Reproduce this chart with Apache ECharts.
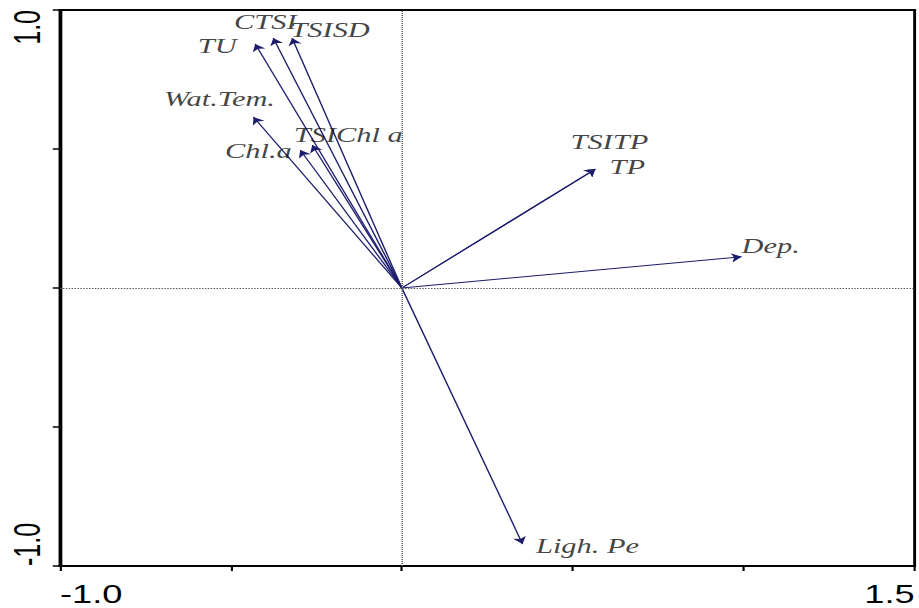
<!DOCTYPE html>
<html>
<head>
<meta charset="utf-8">
<script src="https://cdn.jsdelivr.net/npm/echarts@6/dist/echarts.min.js"></script>
<style>
  html, body { margin: 0; padding: 0; background: #fff; overflow: hidden; }
  /* the original picture is stretched sideways, so draw narrow and widen it */
  #chart { width: 634px; height: 608px; transform: scaleX(1.4495); transform-origin: 0 0; }
</style>
</head>
<body>
<div id="chart"></div>
<script>
// arrow tips (axis 1, axis 2)
var names = ['TU', 'CTSI', 'TSISD', 'Wat.Tem.', 'Chl.a', 'TSIChl a', 'TSITP', 'TP', 'Dep.', 'Ligh. Pe']
var xVals = [-0.429, -0.376, -0.321, -0.434, -0.297, -0.262, 0.566, 0.566, 0.994, 0.353]
var yVals = [0.878, 0.899, 0.899, 0.615, 0.496, 0.514, 0.428, 0.428, 0.112, -0.921]
var xTickLabels = ['-1.0', '1.5']
var yTickLabels = ['-1.0', '1.0']

// where each label sits from its arrow tip, in screen px
var labelDx = [-38, -8, 38, -34, -42, 36, 14, 32, 29, 65]
var labelDy = [2, -16, -8, -18, 1, -10, -27, -2, -11, 2]

var stretch = 919 / 634
var arrowColor = '#1c1c6e'
var serif = 'Liberation Serif'
var sans = 'Liberation Sans'

var chart = echarts.init(document.getElementById('chart'), null, { renderer: 'svg' })

var arrows = names.map(function (n, i) {
  return { name: n, coords: [[0, 0], [xVals[i], yVals[i]]] }
})

var tips = names.map(function (n, i) {
  return {
    name: n,
    value: [xVals[i], yVals[i]],
    label: { offset: [labelDx[i] / stretch, labelDy[i]] }
  }
})

var options = {
  animation: false,
  grid: {
    left: 60 / stretch,
    right: 2 / stretch,
    top: 10,
    bottom: 42,
    show: true,
    borderColor: '#000',
    borderWidth: 2
  },
  xAxis: {
    type: 'value',
    min: -1,
    max: 1.5,
    interval: 0.5,
    splitLine: { show: false },
    axisLine: { onZero: false, lineStyle: { color: '#000', width: 2 } },
    axisTick: { length: 5, lineStyle: { color: '#000', width: 1.5 } },
    axisLabel: {
      margin: 16,
      fontSize: 25,
      fontFamily: sans,
      color: '#000',
      alignMinLabel: 'left',
      alignMaxLabel: 'right',
      formatter: function (v) {
        var t = v.toFixed(1)
        return xTickLabels.indexOf(t) >= 0 ? t : ''
      }
    }
  },
  yAxis: {
    type: 'value',
    min: -1,
    max: 1,
    interval: 0.5,
    splitLine: { show: false },
    axisLine: { onZero: false, lineStyle: { color: '#000', width: 2 } },
    axisTick: { length: 5, lineStyle: { color: '#000', width: 1.5 } },
    axisLabel: {
      rotate: 90,
      margin: 10,
      fontSize: 25,
      fontFamily: sans,
      color: '#000',
      alignMinLabel: 'left',
      alignMaxLabel: 'right',
      formatter: function (v) {
        var t = v.toFixed(1)
        return yTickLabels.indexOf(t) >= 0 ? t : ''
      }
    }
  },
  series: [
    {
      type: 'lines',
      coordinateSystem: 'cartesian2d',
      data: arrows,
      symbol: ['none', 'arrow'],
      symbolSize: 7,
      lineStyle: { color: arrowColor, width: 1, opacity: 1 },
      silent: true
    },
    {
      type: 'scatter',
      data: tips,
      symbolSize: 1,
      itemStyle: { color: 'transparent' },
      label: {
        show: true,
        position: 'inside',
        formatter: '{b}',
        fontFamily: serif,
        fontStyle: 'italic',
        fontSize: 21,
        color: '#111'
      },
      markLine: {
        silent: true,
        symbol: 'none',
        label: { show: false },
        lineStyle: { color: '#555', width: 1, type: [1, 1] },
        data: [{ xAxis: 0 }, { yAxis: 0 }]
      }
    }
  ]
}
chart.setOption(options)
</script>
</body>
</html>
